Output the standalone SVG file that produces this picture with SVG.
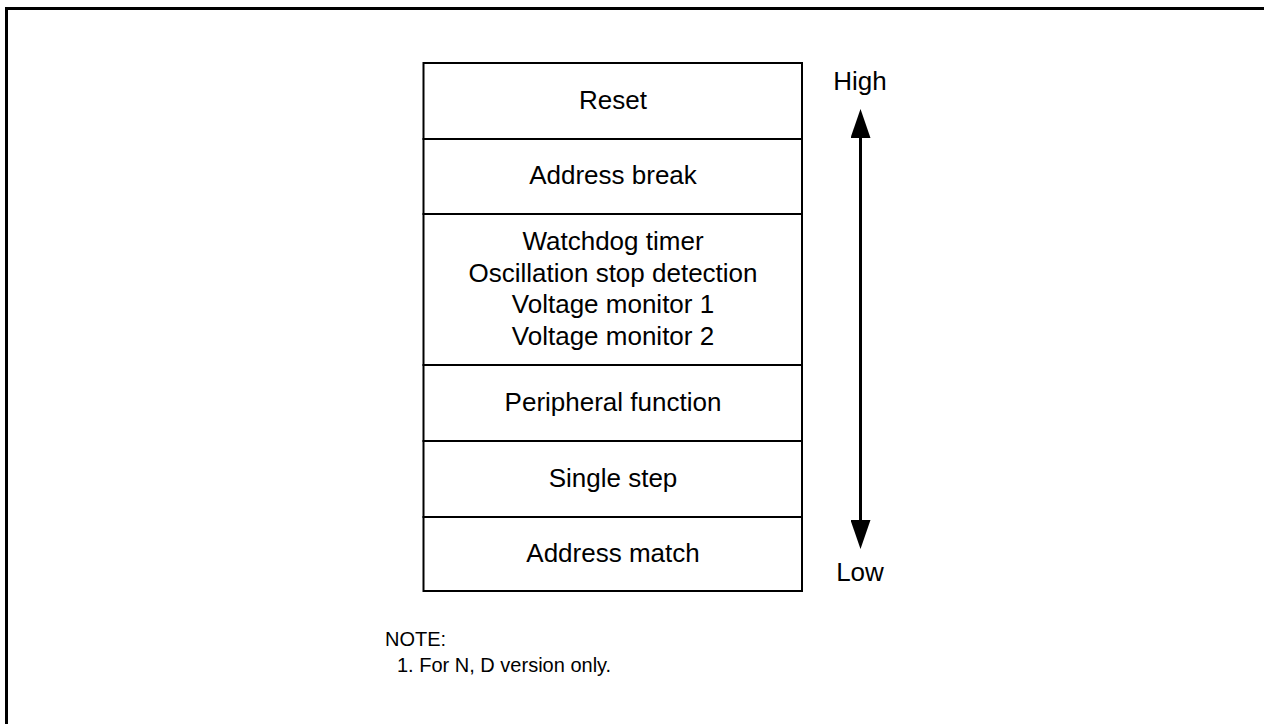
<svg xmlns="http://www.w3.org/2000/svg" width="1264" height="724" viewBox="0 0 1264 724">
  <style>
    .lbl { font-family: "Liberation Sans", Arial, sans-serif; font-size: 26px; fill: #000; text-anchor: middle; }
    .note { font-family: "Liberation Sans", Arial, sans-serif; font-size: 20px; fill: #000; }
    .cell { fill: #fff; stroke: #000; stroke-width: 2; }
    .frame { fill: none; stroke: #000; stroke-width: 3; }
    .conn { stroke: #000; stroke-width: 3; fill: none; }
  </style>
  <defs>
    <marker id="ah" viewBox="0 0 30 20" refX="0" refY="10" markerWidth="30" markerHeight="20" markerUnits="userSpaceOnUse" orient="auto">
      <path d="M0,0 L29,10 L0,20 Z" fill="#000"/>
    </marker>
  </defs>
  <rect width="1264" height="724" fill="#fff"/>
  <path class="frame" d="M6.5,724 V8.5 H1264"/>

  <g id="node-reset">
    <rect class="cell" x="423.5" y="63" width="378.5" height="76"/>
    <text class="lbl" x="613" y="109">Reset</text>
  </g>
  <g id="node-address-break">
    <rect class="cell" x="423.5" y="139" width="378.5" height="75"/>
    <text class="lbl" x="613" y="184">Address break</text>
  </g>
  <g id="node-watchdog">
    <rect class="cell" x="423.5" y="214" width="378.5" height="151"/>
    <text class="lbl" x="613" y="250">Watchdog timer</text>
    <text class="lbl" x="613" y="282">Oscillation stop detection</text>
    <text class="lbl" x="613" y="313">Voltage monitor 1</text>
    <text class="lbl" x="613" y="345">Voltage monitor 2</text>
  </g>
  <g id="node-peripheral">
    <rect class="cell" x="423.5" y="365" width="378.5" height="76"/>
    <text class="lbl" x="613" y="411">Peripheral function</text>
  </g>
  <g id="node-single-step">
    <rect class="cell" x="423.5" y="441" width="378.5" height="76"/>
    <text class="lbl" x="613" y="487">Single step</text>
  </g>
  <g id="node-address-match">
    <rect class="cell" x="423.5" y="517" width="378.5" height="74"/>
    <text class="lbl" x="613" y="562">Address match</text>
  </g>

  <g id="connectors">
    <line class="conn" x1="860.5" y1="324" x2="860.5" y2="138" marker-end="url(#ah)"/>
    <line class="conn" x1="860.5" y1="324" x2="860.5" y2="520" marker-end="url(#ah)"/>
  </g>

  <g id="node-high">
    <text class="lbl" x="860" y="90">High</text>
  </g>
  <g id="node-low">
    <text class="lbl" x="860" y="581">Low</text>
  </g>

  <g id="node-note">
    <text class="note" x="385" y="646">NOTE:</text>
    <text class="note" x="397" y="672">1. For N, D version only.</text>
  </g>
</svg>
